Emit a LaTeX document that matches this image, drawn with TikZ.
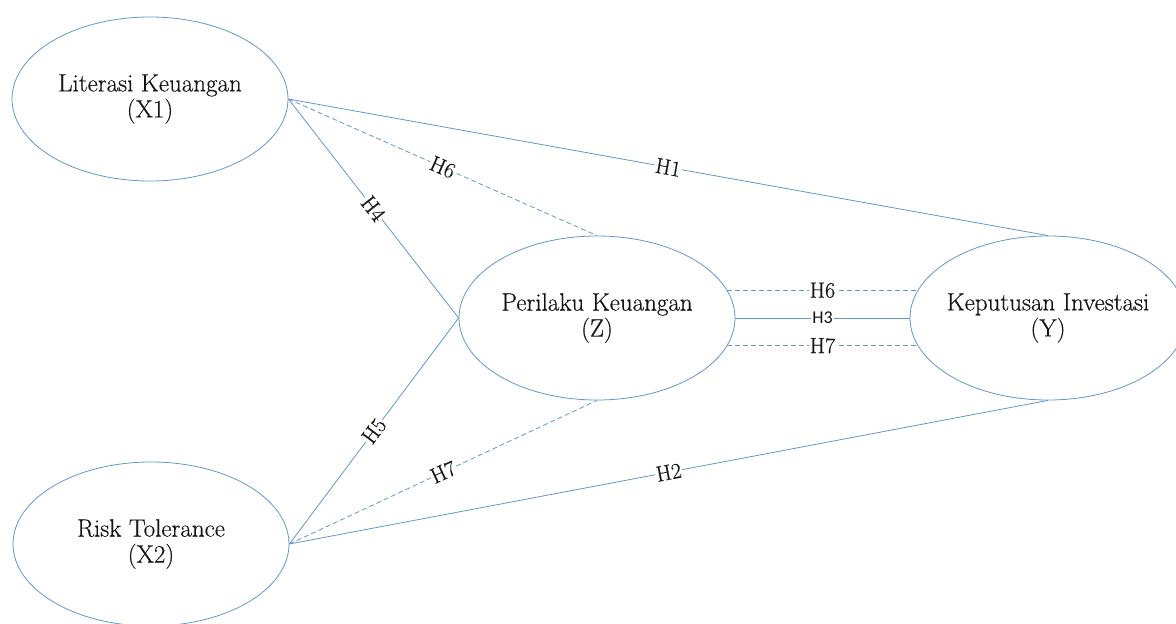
\documentclass[tikz,border=0pt]{standalone}
\usepackage{fontspec}
\setmainfont{Latin Modern Roman}[FakeBold=0.4]
\newfontfamily\labsans{Carlito}
\usetikzlibrary{shapes.geometric}
\definecolor{lineblue}{RGB}{100,150,204}
\definecolor{txt}{RGB}{20,20,20}
\begin{document}
\begin{tikzpicture}[x=1pt,y=-1pt,
  latent/.style={ellipse,draw=lineblue,line width=0.8pt,minimum width=276pt,minimum height=164pt,inner xsep=-25pt,inner ysep=0pt,align=center,font=\fontsize{25}{26}\selectfont,text=txt},
  conn/.style={draw=lineblue,line width=0.8pt},
  dconn/.style={conn,dash pattern=on 5pt off 3pt},
  hlab/.style={fill=white,inner sep=1pt,font=\fontsize{22}{23}\selectfont,text=txt,midway,sloped},
  slab/.style={hlab,font=\labsans\fontsize{18}{19}\selectfont}]
\useasboundingbox (0,0) rectangle (1176,624);
\node[latent] (X1) at (150,99) {Literasi Keuangan\\(X1)};
\node[latent] (X2) at (151,544) {Risk Tolerance\\(X2)};
\node[latent] (Z) at (597,318) {Perilaku Keuangan\\(Z)};
\node[latent] (Y) at (1048,318) {Keputusan Investasi\\(Y)};
\draw[conn] (X1.east) -- node[hlab]{H1} (Y.north);
\draw[dconn] (X1.east) -- node[hlab]{H6} (Z.north);
\draw[conn] (X1.east) -- node[hlab]{H4} (Z.west);
\draw[conn] (X2.east) -- node[hlab]{H5} (Z.west);
\draw[dconn] (X2.east) -- node[hlab]{H7} (Z.south);
\draw[conn] (X2.east) -- node[hlab]{H2} (Y.south);
\draw[dconn] (Z.12) -- node[hlab]{H6} (Y.168);
\draw[conn] (Z.east) -- node[slab]{H3} (Y.west);
\draw[dconn] (Z.-12) -- node[hlab]{H7} (Y.-168);
\end{tikzpicture}
\end{document}
